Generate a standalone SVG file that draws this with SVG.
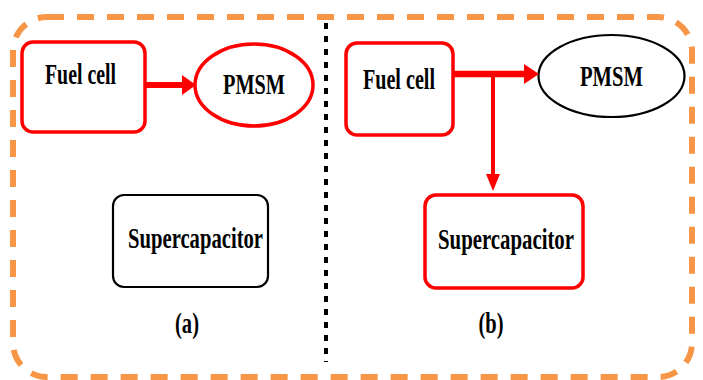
<svg xmlns="http://www.w3.org/2000/svg" width="703" height="380" viewBox="0 0 703 380">
<defs>
<style>
.lbl{font-family:"Liberation Serif","Times New Roman",serif;font-weight:bold;font-size:29px;fill:#000;}
.red{fill:#fff;stroke:#FF0000;stroke-width:3.5;}
.blk{fill:#fff;stroke:#000;stroke-width:2.2;}
.conn{stroke:#FF0000;fill:none;}
</style>
</defs>
<rect x="0" y="0" width="703" height="380" fill="#fff"/>
<rect id="frame" x="13" y="17" width="679" height="360" rx="34" ry="34" fill="none" stroke="#F79646" stroke-width="6" stroke-dasharray="17,13"/>
<line id="divider" x1="326" y1="23" x2="326" y2="362" stroke="#000" stroke-width="4" stroke-dasharray="6,7"/>
<g id="a-fuelcell"><rect class="red" x="22" y="42" width="123" height="90" rx="11"/><text class="lbl" x="45" y="84" textLength="71" lengthAdjust="spacingAndGlyphs">Fuel cell</text></g>
<g id="a-pmsm"><ellipse class="red" cx="254" cy="85" rx="59" ry="41"/><text class="lbl" x="223" y="94" textLength="62" lengthAdjust="spacingAndGlyphs">PMSM</text></g>
<g id="a-supercap"><rect class="blk" x="113" y="195" width="155" height="92" rx="11"/><text class="lbl" x="128" y="248" textLength="135" lengthAdjust="spacingAndGlyphs">Supercapacitor</text></g>
<g id="a-label"><text class="lbl" x="187" y="333" text-anchor="middle" textLength="24" lengthAdjust="spacingAndGlyphs">(a)</text></g>
<g id="b-fuelcell"><rect class="red" x="346" y="43" width="107" height="92" rx="11"/><text class="lbl" x="363" y="89" textLength="72" lengthAdjust="spacingAndGlyphs">Fuel cell</text></g>
<g id="b-pmsm"><ellipse class="blk" cx="611.5" cy="76" rx="73" ry="41"/><text class="lbl" x="580" y="86" textLength="63" lengthAdjust="spacingAndGlyphs">PMSM</text></g>
<g id="b-supercap"><rect class="red" x="425" y="195" width="158" height="93" rx="11"/><text class="lbl" x="438" y="249" textLength="136" lengthAdjust="spacingAndGlyphs">Supercapacitor</text></g>
<g id="b-label"><text class="lbl" x="491" y="333" text-anchor="middle" textLength="25" lengthAdjust="spacingAndGlyphs">(b)</text></g>
<g id="connectors">
<line class="conn" x1="145" y1="85" x2="184" y2="85" stroke-width="6"/>
<polygon points="182,75 196,85 182,95" fill="#FF0000"/>
<line class="conn" x1="453" y1="74" x2="526" y2="74" stroke-width="6.5"/>
<polygon points="524,64 539,74 524,84" fill="#FF0000"/>
<line class="conn" x1="493" y1="74" x2="493" y2="176" stroke-width="4"/>
<polygon points="486,174 493,191 500,174" fill="#FF0000"/>
</g>
</svg>
